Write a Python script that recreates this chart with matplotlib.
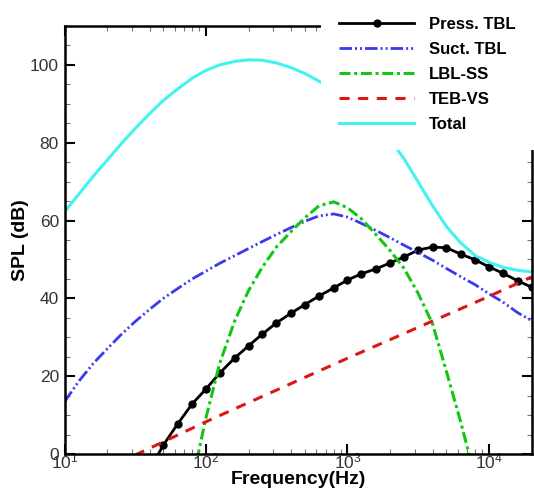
import matplotlib
matplotlib.use("Agg")
import matplotlib.pyplot as plt
from matplotlib.ticker import MultipleLocator, LogLocator, NullFormatter

plt.rcParams['font.family'] = ['Liberation Sans', 'DejaVu Sans']

# ---- data ----
freq_full = [10, 12.5, 16, 20, 25, 31.5, 40, 50, 63, 80, 100, 125, 160, 200, 250, 315,
             400, 500, 630, 800, 1000, 1250, 1600, 2000, 2500, 3150, 4000, 5000,
             6300, 8000, 10000, 12500, 16000, 20000]

suct_tbl = [13.4, 18.5, 23.3, 27.0, 30.6, 34.0, 37.2, 40.0, 42.5, 45.0, 47.0, 49.0, 51.0,
            52.8, 54.6, 56.4, 58.2, 59.8, 61.2, 61.7, 60.9, 59.3, 57.4, 55.6, 53.7, 51.8,
            49.8, 47.7, 45.6, 43.5, 41.2, 39.1, 36.3, 34.3]

total = [62.2, 66.6, 71.4, 75.5, 79.6, 83.6, 87.5, 90.9, 93.8, 96.6, 98.6, 100.0, 100.9,
         101.3, 101.2, 100.5, 99.3, 97.8, 95.8, 93.6, 91.0, 88.0, 84.5, 80.8, 76.0, 70.0,
         63.8, 58.5, 54.3, 51.0, 49.3, 48.0, 47.2, 46.8]

freq_press = [40, 50, 63, 80, 100, 125, 160, 200, 250, 315, 400, 500, 630, 800, 1000,
              1250, 1600, 2000, 2500, 3150, 4000, 5000, 6300, 8000, 10000, 12500,
              16000, 20000]
press_tbl = [-4.0, 2.3, 7.7, 12.9, 16.7, 20.8, 24.7, 27.8, 30.8, 33.7, 36.2, 38.4, 40.6,
             42.7, 44.7, 46.3, 47.6, 49.1, 50.6, 52.4, 53.2, 53.0, 51.4, 49.9, 48.1,
             46.5, 44.5, 42.9]

freq_lbl = [80, 100, 125, 160, 200, 250, 315, 400, 500, 630, 800, 1000, 1250, 1600,
            2000, 2500, 3150, 4000, 5000, 6300, 8000]
lbl_ss = [-7.0, 9.3, 23.3, 34.3, 42.0, 48.0, 53.2, 57.2, 60.7, 63.8, 64.8, 63.3, 60.5,
          56.3, 52.3, 47.8, 41.4, 33.4, 21.3, 8.4, -6.1]

freq_teb = [31.5, 100, 1000, 10000, 20000]
teb_vs = [-0.3, 8.3, 24.6, 40.5, 45.5]

labels = ['Press. TBL', 'Suct. TBL', 'LBL-SS', 'TEB-VS', 'Total']
yticks = [0, 20, 40, 60, 80, 100]

# ---- figure ----
fig = plt.figure(figsize=(5.34, 4.96), dpi=100)
ax = fig.add_axes([64.5 / 534, 42 / 496, (531.5 - 64.5) / 534, (454 - 26) / 496])

ax.plot(freq_press, press_tbl, color='black', lw=2.0, marker='o', markersize=5,
        label=labels[0])
ax.plot(freq_full, suct_tbl, color='#3a3aee', lw=2.0,
        dashes=(4.5, 1.1, 0.7, 1.1, 0.7, 1.1), label=labels[1])
ax.plot(freq_lbl, lbl_ss, color='#10c810', lw=2.2,
        dashes=(3.6, 1.2, 1.0, 1.2), label=labels[2])
ax.plot(freq_teb, teb_vs, color='#dd1515', lw=2.2, dashes=(3.3, 2.8), label=labels[3])
ax.plot(freq_full, total, color='#45f2f2', lw=2.2, label=labels[4])

ax.set_xscale('log')
ax.set_xlim(10, 20000)
ax.set_ylim(0, 110)
ax.set_yticks(yticks)
ax.yaxis.set_minor_locator(MultipleLocator(5))
ax.xaxis.set_major_locator(LogLocator(base=10, numticks=10))
ax.xaxis.set_minor_locator(LogLocator(base=10, subs=range(2, 10), numticks=20))
ax.xaxis.set_minor_formatter(NullFormatter())

for s in ax.spines.values():
    s.set_linewidth(1.8)

ax.tick_params(which='both', direction='in', top=True, right=True)
ax.tick_params(which='major', length=7, width=1.5, labelsize=12.5, labelcolor='#333333')
ax.tick_params(axis='y', which='major', pad=4)
ax.tick_params(axis='x', which='major', pad=-2)
ax.tick_params(which='minor', length=3.5, width=0.8, color='#777777')

ax.set_xlabel('Frequency(Hz)', fontsize=14, fontweight='bold', labelpad=0)
ax.set_ylabel('SPL (dB)', fontsize=14, fontweight='bold', labelpad=0.5)

leg = ax.legend(loc='upper right', bbox_to_anchor=(534 / 534, 497 / 496),
                bbox_transform=fig.transFigure, borderaxespad=0,
                prop={'weight': 'bold', 'size': 12}, handlelength=4.5,
                handletextpad=0.9, labelspacing=0.59, borderpad=1.1,
                frameon=True, fancybox=False, framealpha=1.0, numpoints=1)
leg.get_frame().set_facecolor('white')
leg.get_frame().set_edgecolor('none')
leg.set_zorder(10)

fig.savefig('out.png', dpi=100)
